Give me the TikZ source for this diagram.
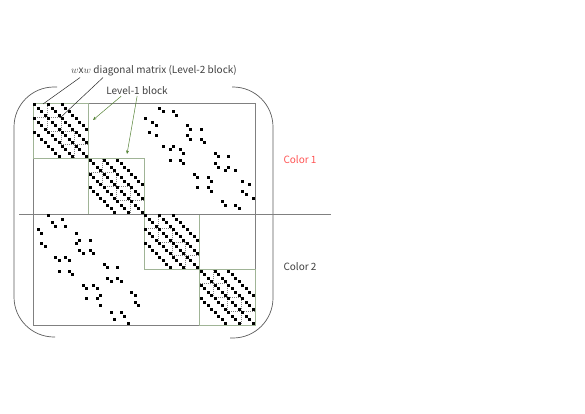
\documentclass[tikz,border=0pt]{standalone}
\usepackage{fontspec}
\setmainfont{Noto Sans CJK JP}
\usepackage{xcolor}
\usetikzlibrary{arrows.meta,positioning,calc}

\definecolor{framegray}{RGB}{128,128,128}
\definecolor{bracegray}{RGB}{90,90,90}
\definecolor{blockgreen}{RGB}{160,180,150}
\definecolor{arrowgreen}{RGB}{84,130,53}
\definecolor{textgray}{RGB}{64,64,64}
\definecolor{colorred}{RGB}{255,85,85}

% one matrix entry at column #1, row #2
\newcommand{\pitch}{3.46875}
\newcommand{\entry}[2]{\fill ({33+(#1+0.5)*\pitch-1.5},{103+(#2+0.5)*\pitch-1.5}) rectangle ++(3,3);}

\begin{document}
\begin{tikzpicture}[
    x=1pt, y=-1pt,
    txt/.style={font=\fontsize{10}{12}\selectfont, text=textgray, inner sep=1pt},
    lvlone/.style={draw=blockgreen, line width=0.6pt},
    lvltwo/.style={draw=framegray, line width=0.4pt, dash pattern=on 1pt off 1pt},
    bracket/.style={draw=bracegray, line width=0.7pt, rounded corners=40pt},
    pointer/.style={draw=black!85, line width=0.5pt},
    greenarrow/.style={-{Stealth[length=3.5pt,width=3pt]}, draw=arrowgreen, line width=0.5pt}
]
    \useasboundingbox (0,0) rectangle (585,414);

    % labels
    \node [txt] (title) at (154,71) {$w$x$w$ diagonal matrix (Level-2 block)};
    \node [txt] (lvl1) at (137,91) {Level-1 block};
    \node [txt, text=colorred] (c1) at (300,160) {Color 1};
    \node [txt] (c2) at (300,267) {Color 2};

    % outer bracket and matrix frame
    \draw [bracket] (57,87) -- (14,87) -- (14,337) -- (55,337);
    \draw [bracket] (232,87) -- (273,87) -- (273,338) -- (230,338);
    \draw [framegray, line width=0.6pt] (33,103) rectangle (255,325);

    % level-1 and level-2 blocks on the diagonal
    \foreach \b in {0,...,3}{
        \foreach \k in {0,...,3}
            \draw [lvltwo] ({33+(16*\b+4*\k)*\pitch},{103+(16*\b+4*\k)*\pitch}) rectangle ++({4*\pitch},{4*\pitch});
        \draw [lvlone] ({33+16*\b*\pitch},{103+16*\b*\pitch}) rectangle ++({16*\pitch},{16*\pitch});
    }

    % colour split
    \draw [framegray, line width=1pt] (19,214) -- (331,214);

    % diagonal band of each level-1 block
    \foreach \b in {0,...,3}{
        \foreach \i in {0,...,15}{
            \foreach \d in {-8,-4,0,4,8}{
                \pgfmathtruncatemacro{\j}{\i+\d}
                \ifnum\j>-1\relax\ifnum\j<16\relax
                    \entry{16*\b+\j}{16*\b+\i}
                \fi\fi
            }
        }
    }

    % coupling entries between the two colours
    \foreach \c/\r in {36/1,37/2,40/2,41/3,32/4,34/5,35/6,33/8,35/9,44/6,45/7,48/7,44/9,45/10,48/10,49/11,
        37/12,39/13,40/12,42/13,43/14,39/16,42/16,43/17,52/14,53/15,56/15,52/17,53/18,56/18,55/19,58/19,
        46/20,47/21,50/21,51/22,47/24,50/24,51/25,60/22,62/23,60/25,61/26,63/27,54/28,55/29,58/29,59/30}
        \entry{\c}{\r};
    \foreach \c/\r in {4/32,5/34,6/35,8/33,9/35,1/36,2/37,2/40,3/41,12/37,13/39,12/40,16/39,13/42,14/43,16/42,
        17/43,6/44,7/45,9/44,10/45,7/48,10/48,11/49,20/46,21/47,24/47,21/50,22/51,24/50,25/51,14/52,
        15/53,17/52,18/53,15/56,18/56,19/55,19/58,28/54,29/55,29/57,30/58,22/60,23/62,25/60,26/61,27/63}
        \entry{\c}{\r};

    % pointers
    \coordinate (l2a) at (43,104);
    \coordinate (l2b) at (60,118);
    \coordinate (l1a) at (93,120);
    \coordinate (l1b) at (127,154);
    \draw [pointer] ($(title.south west)+(10,0)$) -- (l2a);
    \draw [pointer] ($(title.south west)+(33,0)$) -- (l2b);
    \draw [greenarrow] ($(lvl1.south west)+(16,0)$) -- (l1a);
    \draw [greenarrow] ($(lvl1.south west)+(32,0)$) -- (l1b);
\end{tikzpicture}
\end{document}
